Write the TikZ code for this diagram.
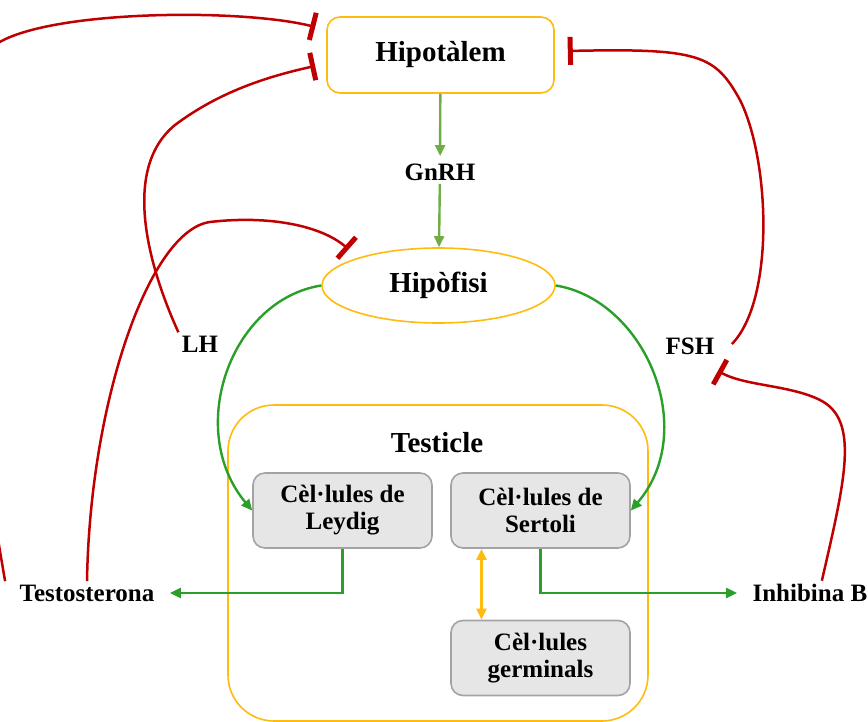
\documentclass[tikz,border=0pt]{standalone}
\usepackage{fontspec}
\setmainfont{Liberation Serif}
\usepackage{tikz}
\usetikzlibrary{arrows.meta,positioning,shapes.geometric}
\definecolor{inhred}{HTML}{C00000}
\definecolor{organorange}{HTML}{FFBB10}
\definecolor{lightgreen}{HTML}{70AD47}
\definecolor{darkgreen}{HTML}{2AA02A}
\definecolor{cellgray}{HTML}{E6E6E6}
\definecolor{cellborder}{HTML}{A3A3A3}
\tikzset{
    %Define standard arrow tip
    >={Triangle[length=11pt,width=10pt]},
    %Define style for organs
    organ/.style={
           draw=organorange, line width=1.6pt,
           font=\fontsize{29}{32}\selectfont\bfseries},
    %Define style for cell boxes
    cellbox/.style={
           draw=cellborder, fill=cellgray, line width=1.6pt,
           rounded corners=12pt, minimum width=179pt, minimum height=75pt,
           align=center, font=\fontsize{25}{27}\selectfont\bfseries},
    hormone/.style={
           font=\fontsize{25}{28}\selectfont\bfseries},
    % Define arrow styles
    stim/.style={
           ->,
           draw=lightgreen,
           line width=2.4pt},
    inhib/.style={
           -{Bar[width=28pt,line width=5pt]},
           draw=inhred,
           line width=2.5pt}
}

\begin{document}
\begin{tikzpicture}[x=1pt,y=-1pt]
	\useasboundingbox (0,0) rectangle (868,722);
	\clip (0,0) rectangle (868,722);

	% Organs
	\node[organ, rounded corners=13pt, minimum width=227pt, minimum height=76pt] (hipot) at (440.5,55) {Hipotàlem};
	\node[hormone] (gnrh) at (440,172) {GnRH};
	\node[organ, ellipse, minimum width=233pt, minimum height=75pt] (hipof) at (438.5,285.5) {Hipòfisi};
	\node[draw=organorange, line width=1.6pt, rounded corners=46pt, minimum width=420pt, minimum height=316pt] (testicle) at (438,563) {};
	\node[organ, draw=none] (testtitle) at (437,443) {Testicle};

	% Cells
	\node[cellbox] (leydig) at (342.5,510.5) {Cèl·lules de\\Leydig};
	\node[cellbox] (sertoli) at (540.5,510.5) {Cèl·lules de\\Sertoli};
	\node[cellbox] (germ) at (540.5,658) {Cèl·lules\\germinals};

	% Hormones
	\node[hormone] (lh) at (200,344) {LH};
	\node[hormone] (fsh) at (690,346) {FSH};
	\node[hormone] (testo) at (87,593) {Testosterona};
	\node[hormone, anchor=west] (inhb) at (749,593) {Inhibina B};

	% Stimulation
	\draw[stim, shorten >=4pt] (hipot) -- (gnrh);
	\draw[stim] (gnrh) -- (hipof);
	\draw[stim, draw=darkgreen] (hipof.west) .. controls (230,300) and (185,430) .. (leydig.west);
	\draw[stim, draw=darkgreen] (hipof.east) .. controls (645,300) and (700,430) .. (sertoli.east);
	\draw[stim, draw=darkgreen, shorten >=12pt] (leydig.south) |- (testo.east);
	\draw[stim, draw=darkgreen, shorten >=12pt] (sertoli.south) |- (inhb.west);
	\draw[<->, draw=organorange, line width=2.4pt] ([xshift=-59pt]sertoli.south) -- ([xshift=-59pt]germ.north);

	% Feedback
	\draw[inhib] ([xshift=-11pt]testo.north west) .. controls (-30,380) and (-65,75) .. (-5,45)
	           .. controls (45,10) and (240,8) .. ([xshift=-11pt,yshift=28pt]hipot.west);
	\draw[inhib] (lh.north west) .. controls (150,270) and (120,170) .. (175,125)
	           .. controls (215,95) and (260,78) .. ([xshift=-11pt,yshift=-11pt]hipot.west);
	\draw[inhib] (testo.north) .. controls (90,400) and (150,230) .. (210,222)
	           .. controls (270,215) and (322,226) .. ([xshift=-7pt,yshift=9pt]hipof.north west);
	\draw[inhib] ([xshift=14pt,yshift=-10pt]fsh.north east) .. controls (775,300) and (770,160) .. (740,100)
	           .. controls (715,55) and (700,48) .. ([xshift=13pt,yshift=4pt]hipot.east);
	\draw[inhib] ([xshift=12pt]inhb.north) .. controls (845,480) and (860,420) .. (820,400)
	           .. controls (790,385) and (745,386) .. ([yshift=-13pt]fsh.south east);
\end{tikzpicture}
\end{document}
